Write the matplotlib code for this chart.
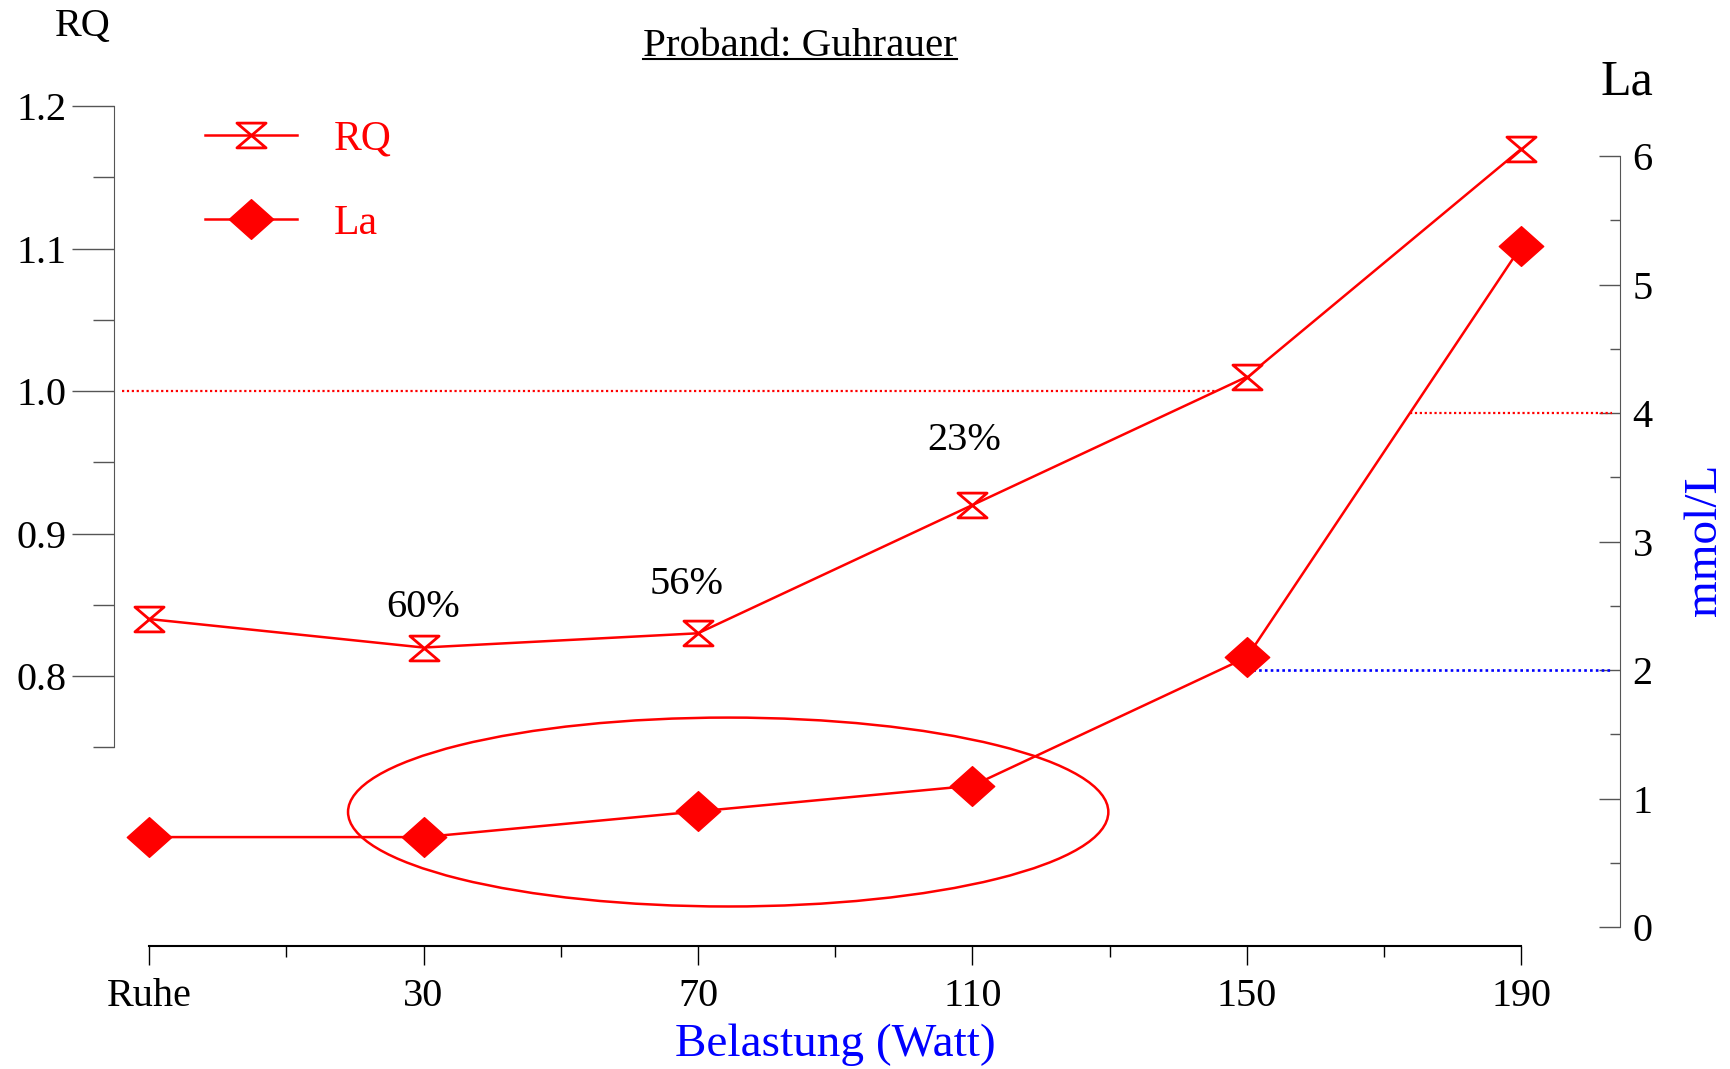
import matplotlib.pyplot as plt
from matplotlib.path import Path
from matplotlib.patches import Ellipse
from matplotlib.lines import Line2D
import numpy as np

plt.rcParams['font.family'] = ['Liberation Serif', 'DejaVu Serif']

stages = ["Ruhe", "30", "70", "110", "150", "190"]
rq = [0.84, 0.82, 0.83, 0.92, 1.01, 1.17]
la = [0.70, 0.70, 0.90, 1.10, 2.10, 5.30]
pct_labels = ["60%", "56%", "23%"]

x = np.arange(len(stages))

# custom markers
hourglass = Path([(-1, 0.85), (1, 0.85), (-1, -0.85), (1, -0.85), (-1, 0.85)],
                 [Path.MOVETO, Path.LINETO, Path.LINETO, Path.LINETO, Path.CLOSEPOLY])
diamond = Path([(0, 1), (1.12, 0), (0, -1), (-1.12, 0), (0, 1)],
               [Path.MOVETO, Path.LINETO, Path.LINETO, Path.LINETO, Path.CLOSEPOLY])

fig = plt.figure(figsize=(17.3, 10.69), dpi=100)
ax = fig.add_axes([0.0659, 0.1150, 0.8705, 0.7858])
ax2 = ax.twinx()

ax.set_xlim(-0.1276, 5.359)
ax.set_ylim(0.6105, 1.2)
ax2.set_ylim(-0.148, 6.389)

gray = '#555555'

# RQ axis (left)
for s in ['top', 'right']:
    ax.spines[s].set_visible(False)
ax.spines['left'].set_bounds(0.75, 1.2)
ax.spines['left'].set_color(gray)
ax.spines['bottom'].set_bounds(0, 5)
ax.spines['bottom'].set_linewidth(1.5)
ax.set_yticks([0.8, 0.9, 1.0, 1.1, 1.2])
ax.set_yticklabels(["0.8", "0.9", "1.0", "1.1", "1.2"])
ax.set_yticks(np.arange(0.75, 1.2, 0.1), minor=True)
ax.tick_params(axis='y', which='major', direction='out', length=30, width=1,
               color=gray, labelsize=29, pad=4)
ax.tick_params(axis='y', which='minor', direction='out', length=15, width=1, color=gray)
ax.set_xticks(x)
ax.set_xticklabels(stages)
ax.set_xticks(x[:-1] + 0.5, minor=True)
ax.tick_params(axis='x', which='major', direction='out', length=14, width=1,
               labelsize=29, pad=9)
ax.tick_params(axis='x', which='minor', direction='out', length=8, width=1)

# La axis (right)
for s in ['top', 'left', 'bottom']:
    ax2.spines[s].set_visible(False)
ax2.spines['right'].set_bounds(0, 6)
ax2.spines['right'].set_color(gray)
ax2.set_yticks(range(0, 7))
ax2.set_yticks(np.arange(0.5, 6, 1.0), minor=True)
ax2.tick_params(axis='y', which='major', direction='in', length=15, width=1,
                color=gray, labelsize=29, pad=9)
ax2.tick_params(axis='y', which='minor', direction='in', length=7, width=1, color=gray)

# reference lines
rq_cross = np.interp(1.0, rq[3:5], x[3:5])
ax.plot([-0.10, rq_cross], [1.0, 1.0], color='red', lw=1.6, ls=(0, (1, 1.2)))
la_cross = np.interp(4.0, la[4:6], x[4:6])
ax2.plot([la_cross, 5.33], [4, 4], color='red', lw=1.6, ls=(0, (1, 1.2)))
ax2.plot([4, 5.33], [2, 2], color='blue', lw=1.9, ls=(0, (1, 1.2)))

# data
l1, = ax.plot(x, rq, color='red', lw=1.8, marker=hourglass, ms=21,
              mfc='white', mec='red', mew=2, clip_on=False, zorder=5, label='RQ')
l2, = ax2.plot(x, la, color='red', lw=1.8, marker=diamond, ms=32,
               mfc='red', mec='red', mew=1, clip_on=False, zorder=5, label='La')

ax2.add_patch(Ellipse((2.11, 0.895), 2.77, 1.47, fill=False, edgecolor='red', lw=1.8))

for lbl, (px, py) in zip(pct_labels, [(1.0, 0.848), (1.96, 0.864), (2.97, 0.965)]):
    ax.text(px, py, lbl, ha='center', va='center', fontsize=29)

leg = ax.legend([l1, l2], ['RQ', 'La'], loc='upper left',
                bbox_to_anchor=(205 / 1730, 1 - 120 / 1069), bbox_transform=fig.transFigure,
                frameon=False, fontsize=30, labelcolor='red', handlelength=2.2,
                handletextpad=0.9, labelspacing=1.1, borderpad=0, borderaxespad=0)

fig.text(83 / 1730, 1 - 26 / 1069, 'RQ', ha='center', va='center', fontsize=29)
fig.text(1627 / 1730, 1 - 82 / 1069, 'La', ha='center', va='center', fontsize=36)
fig.text(1705 / 1730, 1 - 540 / 1069, 'mmol/L', ha='center', va='center',
         rotation=90, fontsize=34, color='blue')
fig.text(835 / 1730, 1 - 1045 / 1069, 'Belastung (Watt)', ha='center', va='center',
         fontsize=34, color='blue')
title = fig.text(800 / 1730, 1 - 47 / 1069, 'Proband: Guhrauer', ha='center', va='center',
                 fontsize=29.5)

fig.canvas.draw()
bb = title.get_window_extent().transformed(fig.transFigure.inverted())
uy = bb.y0 + 0.18 * (bb.y1 - bb.y0)
fig.add_artist(Line2D([bb.x0, bb.x1], [uy, uy], color='black', lw=1.5))

fig.savefig('out.png', dpi=100)
